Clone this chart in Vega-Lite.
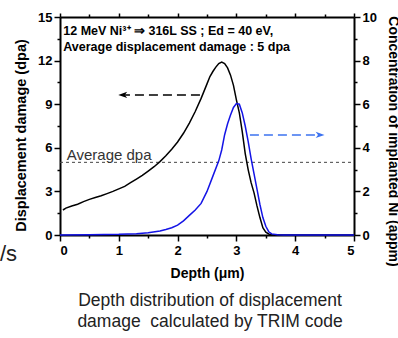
{
  "$schema": "https://vega.github.io/schema/vega-lite/v6.json",
  "width": 294,
  "height": 218,
  "autosize": {"type": "none"},
  "padding": {"left": 60, "top": 17, "right": 44, "bottom": 103},
  "background": "white",
  "config": {
    "view": {"stroke": null},
    "axis": {
      "grid": false,
      "domainColor": "black",
      "domainWidth": 2,
      "tickColor": "black",
      "tickWidth": 1.5,
      "labelFont": "Liberation Sans",
      "labelFontWeight": "bold",
      "labelFontSize": 13,
      "labelColor": "black",
      "titleFont": "Liberation Sans",
      "titleFontWeight": "bold",
      "titleFontSize": 14,
      "titleColor": "black"
    }
  },
  "title": {
    "text": ["Depth distribution of displacement", "damage\u00a0\u00a0calculated by TRIM code"],
    "orient": "bottom",
    "anchor": "middle",
    "font": "Liberation Sans",
    "fontSize": 17.5,
    "fontWeight": "normal",
    "color": "#222222",
    "lineHeight": 21,
    "offset": 12,
    "dx": 3
  },
  "datasets": {
    "damage": [
      {"d": 0.05, "v": 1.72}, {"d": 0.1, "v": 1.85}, {"d": 0.2, "v": 2.0}, {"d": 0.3, "v": 2.12},
      {"d": 0.4, "v": 2.3}, {"d": 0.5, "v": 2.45}, {"d": 0.6, "v": 2.58}, {"d": 0.7, "v": 2.7},
      {"d": 0.8, "v": 2.85}, {"d": 0.9, "v": 3.0}, {"d": 1.0, "v": 3.17}, {"d": 1.1, "v": 3.35},
      {"d": 1.2, "v": 3.6}, {"d": 1.3, "v": 3.85}, {"d": 1.4, "v": 4.1}, {"d": 1.5, "v": 4.4},
      {"d": 1.6, "v": 4.7}, {"d": 1.7, "v": 5.05}, {"d": 1.8, "v": 5.45}, {"d": 1.9, "v": 5.9},
      {"d": 2.0, "v": 6.4}, {"d": 2.1, "v": 7.0}, {"d": 2.2, "v": 7.7}, {"d": 2.3, "v": 8.5},
      {"d": 2.4, "v": 9.4}, {"d": 2.5, "v": 10.4}, {"d": 2.55, "v": 10.9}, {"d": 2.6, "v": 11.25},
      {"d": 2.65, "v": 11.55}, {"d": 2.7, "v": 11.8}, {"d": 2.75, "v": 11.9}, {"d": 2.8, "v": 11.8},
      {"d": 2.85, "v": 11.5}, {"d": 2.9, "v": 11.0}, {"d": 2.95, "v": 10.3}, {"d": 3.0, "v": 9.3},
      {"d": 3.05, "v": 8.4}, {"d": 3.1, "v": 7.1}, {"d": 3.15, "v": 5.6}, {"d": 3.2, "v": 4.5},
      {"d": 3.25, "v": 3.6}, {"d": 3.3, "v": 2.9}, {"d": 3.35, "v": 2.0}, {"d": 3.4, "v": 1.2},
      {"d": 3.45, "v": 0.5}, {"d": 3.5, "v": 0.2}, {"d": 3.55, "v": 0.07}, {"d": 3.6, "v": 0.02},
      {"d": 3.7, "v": 0.0}, {"d": 5.0, "v": 0.0}
    ],
    "conc": [
      {"d": 0.0, "c": 0.0}, {"d": 0.5, "c": 0.01}, {"d": 1.0, "c": 0.03}, {"d": 1.3, "c": 0.06},
      {"d": 1.5, "c": 0.1}, {"d": 1.7, "c": 0.18}, {"d": 1.8, "c": 0.25}, {"d": 1.9, "c": 0.33},
      {"d": 2.0, "c": 0.45}, {"d": 2.1, "c": 0.65}, {"d": 2.2, "c": 0.9}, {"d": 2.3, "c": 1.15},
      {"d": 2.4, "c": 1.45}, {"d": 2.5, "c": 2.0}, {"d": 2.6, "c": 2.7}, {"d": 2.7, "c": 3.4},
      {"d": 2.75, "c": 3.9}, {"d": 2.8, "c": 4.6}, {"d": 2.85, "c": 5.1}, {"d": 2.9, "c": 5.5},
      {"d": 2.95, "c": 5.85}, {"d": 3.0, "c": 6.03}, {"d": 3.05, "c": 6.0}, {"d": 3.1, "c": 5.6},
      {"d": 3.15, "c": 5.0}, {"d": 3.2, "c": 4.3}, {"d": 3.25, "c": 3.5}, {"d": 3.3, "c": 2.8},
      {"d": 3.35, "c": 2.1}, {"d": 3.4, "c": 1.4}, {"d": 3.45, "c": 0.8}, {"d": 3.5, "c": 0.4},
      {"d": 3.55, "c": 0.15}, {"d": 3.6, "c": 0.05}, {"d": 3.7, "c": 0.01}, {"d": 3.8, "c": 0.0},
      {"d": 5.0, "c": 0.0}
    ]
  },
  "resolve": {
    "scale": {"y": "independent"},
    "axis": {"x": "independent", "y": "independent"}
  },
  "layer": [
    {
      "data": {"values": [{"x1": 0, "x2": 5, "y": 5}]},
      "mark": {"type": "rule", "color": "#444444", "strokeWidth": 1, "strokeDash": [3, 3]},
      "encoding": {
        "x": {"field": "x1", "type": "quantitative", "scale": {"domain": [0, 5], "nice": false}, "axis": null},
        "x2": {"field": "x2"},
        "y": {"field": "y", "type": "quantitative", "scale": {"domain": [0, 15], "nice": false}, "axis": null}
      }
    },
    {
      "data": {"name": "damage"},
      "mark": {"type": "line", "color": "black", "strokeWidth": 1.5},
      "encoding": {
        "x": {
          "field": "d", "type": "quantitative",
          "scale": {"domain": [0, 5], "nice": false},
          "axis": {"orient": "bottom", "values": [0, 1, 2, 3, 4, 5], "tickSize": 6, "labelPadding": 3, "title": "Depth (μm)", "titlePadding": 9}
        },
        "y": {
          "field": "v", "type": "quantitative",
          "scale": {"domain": [0, 15], "nice": false},
          "axis": {"orient": "left", "values": [0, 3, 6, 9, 12, 15], "tickSize": 6, "labelPadding": 2, "title": "Displacement damage (dpa)", "titlePadding": 9, "titleFontSize": 14.5, "titleY": 118}
        }
      }
    },
    {
      "data": {"values": [{"x": 0.115, "y": 5.18, "t": "Average dpa"}]},
      "mark": {"type": "text", "align": "left", "baseline": "alphabetic", "font": "Liberation Sans", "fontSize": 15, "color": "#333333"},
      "encoding": {
        "x": {
          "field": "x", "type": "quantitative", "scale": {"domain": [0, 5], "nice": false},
          "axis": {"orient": "bottom", "values": [0.5, 1.5, 2.5, 3.5, 4.5], "tickSize": 3, "labels": false, "domain": false, "title": null}
        },
        "y": {
          "field": "y", "type": "quantitative", "scale": {"domain": [0, 15], "nice": false},
          "axis": {"orient": "left", "values": [1.5, 4.5, 7.5, 10.5, 13.5], "tickSize": 3, "labels": false, "domain": false, "title": null}
        },
        "text": {"field": "t"}
      }
    },
    {
      "data": {"values": [
        {"x": 0.056, "y": 13.76, "t": "12 MeV Ni³⁺  ⇒ 316L SS ; Ed = 40 eV,"},
        {"x": 0.056, "y": 12.68, "t": "Average displacement damage : 5 dpa"}
      ]},
      "mark": {"type": "text", "align": "left", "baseline": "alphabetic", "font": "Liberation Sans", "fontSize": 12.5, "fontWeight": "bold", "color": "black"},
      "encoding": {
        "x": {
          "field": "x", "type": "quantitative", "scale": {"domain": [0, 5], "nice": false},
          "axis": {"orient": "top", "values": [0, 1, 2, 3, 4, 5], "tickSize": 4, "labels": false, "title": null}
        },
        "y": {"field": "y", "type": "quantitative", "scale": {"domain": [0, 15], "nice": false}, "axis": null},
        "text": {"field": "t"}
      }
    },
    {
      "data": {"values": [{"x": -0.73, "y": -1.8, "t": "/s"}]},
      "mark": {"type": "text", "align": "right", "baseline": "alphabetic", "font": "Liberation Sans", "fontSize": 22, "fontWeight": "normal", "color": "#222222"},
      "encoding": {
        "x": {"field": "x", "type": "quantitative", "scale": {"domain": [0, 5], "nice": false}, "axis": null},
        "y": {"field": "y", "type": "quantitative", "scale": {"domain": [0, 15], "nice": false}, "axis": null},
        "text": {"field": "t"}
      }
    },
    {
      "data": {"values": [{"x1": 2.38, "x2": 1.1, "y": 9.64}]},
      "mark": {"type": "rule", "color": "black", "strokeWidth": 1.5, "strokeDash": [9, 5]},
      "encoding": {
        "x": {
          "field": "x1", "type": "quantitative", "scale": {"domain": [0, 5], "nice": false},
          "axis": {"orient": "top", "values": [0.5, 1.5, 2.5, 3.5, 4.5], "tickSize": 3, "labels": false, "domain": false, "title": null}
        },
        "x2": {"field": "x2"},
        "y": {"field": "y", "type": "quantitative", "scale": {"domain": [0, 15], "nice": false}, "axis": null}
      }
    },
    {
      "data": {"values": [{"x": 1.08, "y": 9.64}]},
      "mark": {"type": "point", "shape": "M -1 0 L 0.7 -0.6 L 0.25 0 L 0.7 0.6 Z", "size": 110, "filled": true, "color": "black", "opacity": 1},
      "encoding": {
        "x": {"field": "x", "type": "quantitative", "scale": {"domain": [0, 5], "nice": false}, "axis": null},
        "y": {"field": "y", "type": "quantitative", "scale": {"domain": [0, 15], "nice": false}, "axis": null}
      }
    },
    {
      "data": {"name": "conc"},
      "mark": {"type": "line", "color": "#1414e6", "strokeWidth": 1.5},
      "encoding": {
        "x": {"field": "d", "type": "quantitative", "scale": {"domain": [0, 5], "nice": false}, "axis": null},
        "y": {
          "field": "c", "type": "quantitative",
          "scale": {"domain": [0, 10], "nice": false},
          "axis": {"orient": "right", "values": [0, 2, 4, 6, 8, 10], "tickSize": 6, "labelPadding": 2, "title": "Concentration of implanted Ni (appm)", "titleAngle": 90, "titlePadding": 9, "titleY": 124}
        }
      }
    },
    {
      "data": {"values": [{"x1": 3.23, "x2": 4.4, "y": 4.59}]},
      "mark": {"type": "rule", "color": "#3d73f0", "strokeWidth": 1.5, "strokeDash": [9, 5]},
      "encoding": {
        "x": {"field": "x1", "type": "quantitative", "scale": {"domain": [0, 5], "nice": false}, "axis": null},
        "x2": {"field": "x2"},
        "y": {
          "field": "y", "type": "quantitative", "scale": {"domain": [0, 10], "nice": false},
          "axis": {"orient": "right", "values": [1, 3, 5, 7, 9], "tickSize": 3, "labels": false, "domain": false, "title": null}
        }
      }
    },
    {
      "data": {"values": [{"x": 4.41, "y": 4.59}]},
      "mark": {"type": "point", "shape": "M 1 0 L -0.7 -0.6 L -0.25 0 L -0.7 0.6 Z", "size": 110, "filled": true, "color": "#3d73f0", "opacity": 1},
      "encoding": {
        "x": {"field": "x", "type": "quantitative", "scale": {"domain": [0, 5], "nice": false}, "axis": null},
        "y": {"field": "y", "type": "quantitative", "scale": {"domain": [0, 10], "nice": false}, "axis": null}
      }
    }
  ]
}
